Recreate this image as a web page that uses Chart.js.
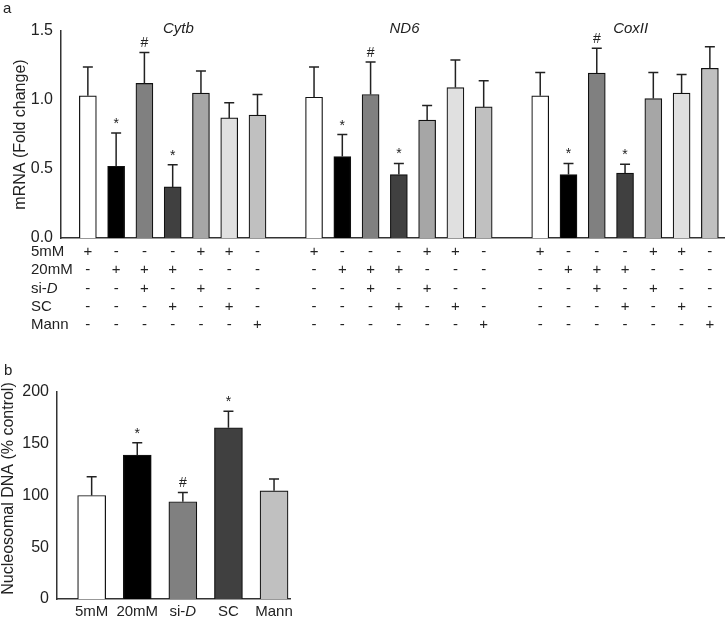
<!DOCTYPE html>
<html>
<head>
<meta charset="utf-8">
<script src="https://cdn.jsdelivr.net/npm/chart.js@4.4.1/dist/chart.umd.min.js"></script>
<style>
  body { margin: 0; background: #fff; width: 725px; height: 619px; position: relative; overflow: hidden; }
  canvas { position: absolute; left: 0; }
  #chartA { top: 0; }
  #chartB { top: 360px; }
</style>
</head>
<body>
<canvas id="chartA" width="725" height="340"></canvas>
<canvas id="chartB" width="300" height="259"></canvas>
<script>
// panel a: mRNA fold change, 7 conditions per gene
const genes = ["Cytb", "ND6", "CoxII"];
const cytbMean = [1.03, 0.52, 1.12, 0.37, 1.05, 0.87, 0.89];
const cytbSD   = [0.21, 0.24, 0.225, 0.16, 0.16, 0.11, 0.15];
const nd6Mean  = [1.02, 0.59, 1.04, 0.46, 0.855, 1.09, 0.95];
const nd6SD    = [0.22, 0.16, 0.235, 0.08, 0.105, 0.20, 0.19];
const coxMean  = [1.03, 0.46, 1.195, 0.47, 1.01, 1.05, 1.23];
const coxSD    = [0.17, 0.08, 0.18, 0.065, 0.19, 0.135, 0.155];
const sigMarks = ["", "*", "#", "*", "", "", ""];
const barColors = ["#ffffff", "#000000", "#808080", "#404040", "#a6a6a6", "#e0e0e0", "#c0c0c0"];
const yTicksA = [0, 0.5, 1.0, 1.5];

// treatment table under panel a
const rowLabels = ["5mM", "20mM", "si-", "SC", "Mann"];
const treatTable = [
  ["+", "-", "-", "-", "+", "+", "-"],
  ["-", "+", "+", "+", "-", "-", "-"],
  ["-", "-", "+", "-", "+", "-", "-"],
  ["-", "-", "-", "+", "-", "+", "-"],
  ["-", "-", "-", "-", "-", "-", "+"]
];

// panel b: nucleosomal DNA
const groupsB = ["5mM", "20mM", "si-", "SC", "Mann"];
const nucMean = [100, 139, 94, 165.5, 104.5];
const nucSD   = [18, 12, 9, 16, 11.5];
const nucMarks = ["", "*", "#", "*", ""];
const nucColors = ["#ffffff", "#000000", "#808080", "#404040", "#c0c0c0"];

const FONT = "'Liberation Sans', Arial, sans-serif";
const INK = "#222";

// build the bar points (8 slots per gene, last one left empty as a gap)
const meansA = [cytbMean, nd6Mean, coxMean];
const sdsA = [cytbSD, nd6SD, coxSD];
const pointsA = [], sdA = [], marksA = [], colorsA = [];
meansA.forEach((arr, g) => {
  arr.forEach((v, c) => {
    pointsA.push({ x: g * 8 + c, y: v });
    sdA.push(sdsA[g][c]);
    marksA.push(sigMarks[c]);
    colorsA.push(barColors[c]);
  });
});
const pointsB = nucMean.map((v, i) => ({ x: i, y: v }));

function errorBars(sds, marks) {
  return {
    id: "errorBars",
    afterDatasetsDraw(chart) {
      const ctx = chart.ctx;
      const ys = chart.scales.y;
      const meta = chart.getDatasetMeta(0);
      const pts = chart.data.datasets[0].data;
      ctx.save();
      ctx.strokeStyle = INK;
      ctx.lineWidth = 1.5;
      ctx.fillStyle = INK;
      ctx.font = "14px " + FONT;
      ctx.textAlign = "center";
      ctx.textBaseline = "alphabetic";
      meta.data.forEach((bar, i) => {
        const top = ys.getPixelForValue(pts[i].y + sds[i]);
        ctx.beginPath();
        ctx.moveTo(bar.x, bar.y);
        ctx.lineTo(bar.x, top);
        ctx.moveTo(bar.x - 5, top);
        ctx.lineTo(bar.x + 5, top);
        ctx.stroke();
        if (marks[i]) ctx.fillText(marks[i], bar.x, top - 5);
      });
      ctx.restore();
    }
  };
}

function drawSiD(ctx, x, y, size, align) {
  ctx.font = size + "px " + FONT;
  const w1 = ctx.measureText("si-").width;
  ctx.font = "italic " + size + "px " + FONT;
  const w2 = ctx.measureText("D").width;
  let x0 = align === "center" ? x - (w1 + w2) / 2 : x;
  ctx.textAlign = "left";
  ctx.font = size + "px " + FONT;
  ctx.fillText("si-", x0, y);
  ctx.font = "italic " + size + "px " + FONT;
  ctx.fillText("D", x0 + w1, y);
}

const extrasA = {
  id: "extrasA",
  afterDraw(chart) {
    const ctx = chart.ctx;
    const xs = chart.scales.x;
    const area = chart.chartArea;
    ctx.save();
    ctx.fillStyle = INK;
    ctx.textBaseline = "middle";
    // panel letter
    ctx.font = "15px " + FONT;
    ctx.textAlign = "left";
    ctx.fillText("a", 3, 9);
    // gene titles
    ctx.font = "italic 15px " + FONT;
    ctx.textAlign = "center";
    genes.forEach((g, i) => {
      ctx.fillText(g, xs.getPixelForValue(i * 8 + 3.2), 29);
    });
    // y title
    ctx.save();
    ctx.translate(21, (area.top + area.bottom) / 2);
    ctx.rotate(-Math.PI / 2);
    ctx.font = "16px " + FONT;
    ctx.textAlign = "center";
    ctx.fillText("mRNA (Fold change)", 0, 0);
    ctx.restore();
    // treatment table
    rowLabels.forEach((lab, r) => {
      const y = 252 + r * 18.2;
      if (lab === "si-") {
        drawSiD(ctx, 31, y, 15, "left");
      } else {
        ctx.font = "15px " + FONT;
        ctx.textAlign = "left";
        ctx.fillText(lab, 31, y);
      }
      ctx.font = "15px " + FONT;
      ctx.textAlign = "center";
      pointsA.forEach((p, i) => {
        ctx.fillText(treatTable[r][i % 7], xs.getPixelForValue(p.x), y);
      });
    });
    ctx.restore();
  }
};

const extrasB = {
  id: "extrasB",
  afterDraw(chart) {
    const ctx = chart.ctx;
    const xs = chart.scales.x;
    const area = chart.chartArea;
    ctx.save();
    ctx.fillStyle = INK;
    ctx.textBaseline = "middle";
    ctx.font = "15px " + FONT;
    ctx.textAlign = "left";
    ctx.fillText("b", 4, 11);
    ctx.save();
    ctx.translate(9, (area.top + area.bottom) / 2 - 7);
    ctx.rotate(-Math.PI / 2);
    ctx.font = "16px " + FONT;
    ctx.textAlign = "center";
    ctx.fillText("Nucleosomal DNA (% control)", 0, 0);
    ctx.restore();
    groupsB.forEach((g, i) => {
      const x = xs.getPixelForValue(pointsB[i].x);
      if (g === "si-") {
        drawSiD(ctx, x, 252, 15, "center");
      } else {
        ctx.font = "15px " + FONT;
        ctx.textAlign = "center";
        ctx.fillText(g, x, 252);
      }
    });
    ctx.restore();
  }
};

function axisOpts(xMin, xMax, xHeight, yMax, yStep, yWidth, fmt) {
  return {
    x: {
      type: "linear", min: xMin, max: xMax, offset: false,
      grid: { display: false, drawTicks: false },
      border: { display: true, color: "#333", width: 1.5 },
      ticks: { display: false },
      afterFit: s => { s.height = xHeight; }
    },
    y: {
      min: 0, max: yMax,
      grid: { display: false, drawTicks: false },
      border: { display: true, color: "#333", width: 1.5 },
      ticks: {
        stepSize: yStep, padding: 8, color: INK,
        font: { family: FONT, size: 16 },
        callback: fmt
      },
      afterFit: s => { s.width = yWidth; }
    }
  };
}

new Chart("chartA", {
  type: "bar",
  data: {
    datasets: [{
      data: pointsA,
      backgroundColor: colorsA,
      borderColor: "#111",
      borderWidth: 1.2,
      barThickness: 17
    }]
  },
  options: {
    responsive: false,
    devicePixelRatio: 1,
    animation: false,
    layout: { padding: { top: 31, right: 1, left: 0, bottom: 0 } },
    plugins: { legend: { display: false }, tooltip: { enabled: false } },
    scales: axisOpts(-0.95, 22.5, 102, 1.5, 0.5, 61, v => yTicksA.includes(v) ? v.toFixed(1) : "")
  },
  plugins: [errorBars(sdA, marksA), extrasA]
});

new Chart("chartB", {
  type: "bar",
  data: {
    datasets: [{
      data: pointsB,
      backgroundColor: nucColors,
      borderColor: "#111",
      borderWidth: 1.2,
      barThickness: 28
    }]
  },
  options: {
    responsive: false,
    devicePixelRatio: 1,
    animation: false,
    layout: { padding: { top: 32, right: 10, left: 0, bottom: 0 } },
    plugins: { legend: { display: false }, tooltip: { enabled: false } },
    scales: axisOpts(-0.76, 4.35, 20, 200, 50, 57, v => String(v))
  },
  plugins: [errorBars(nucSD, nucMarks), extrasB]
});
</script>
</body>
</html>
